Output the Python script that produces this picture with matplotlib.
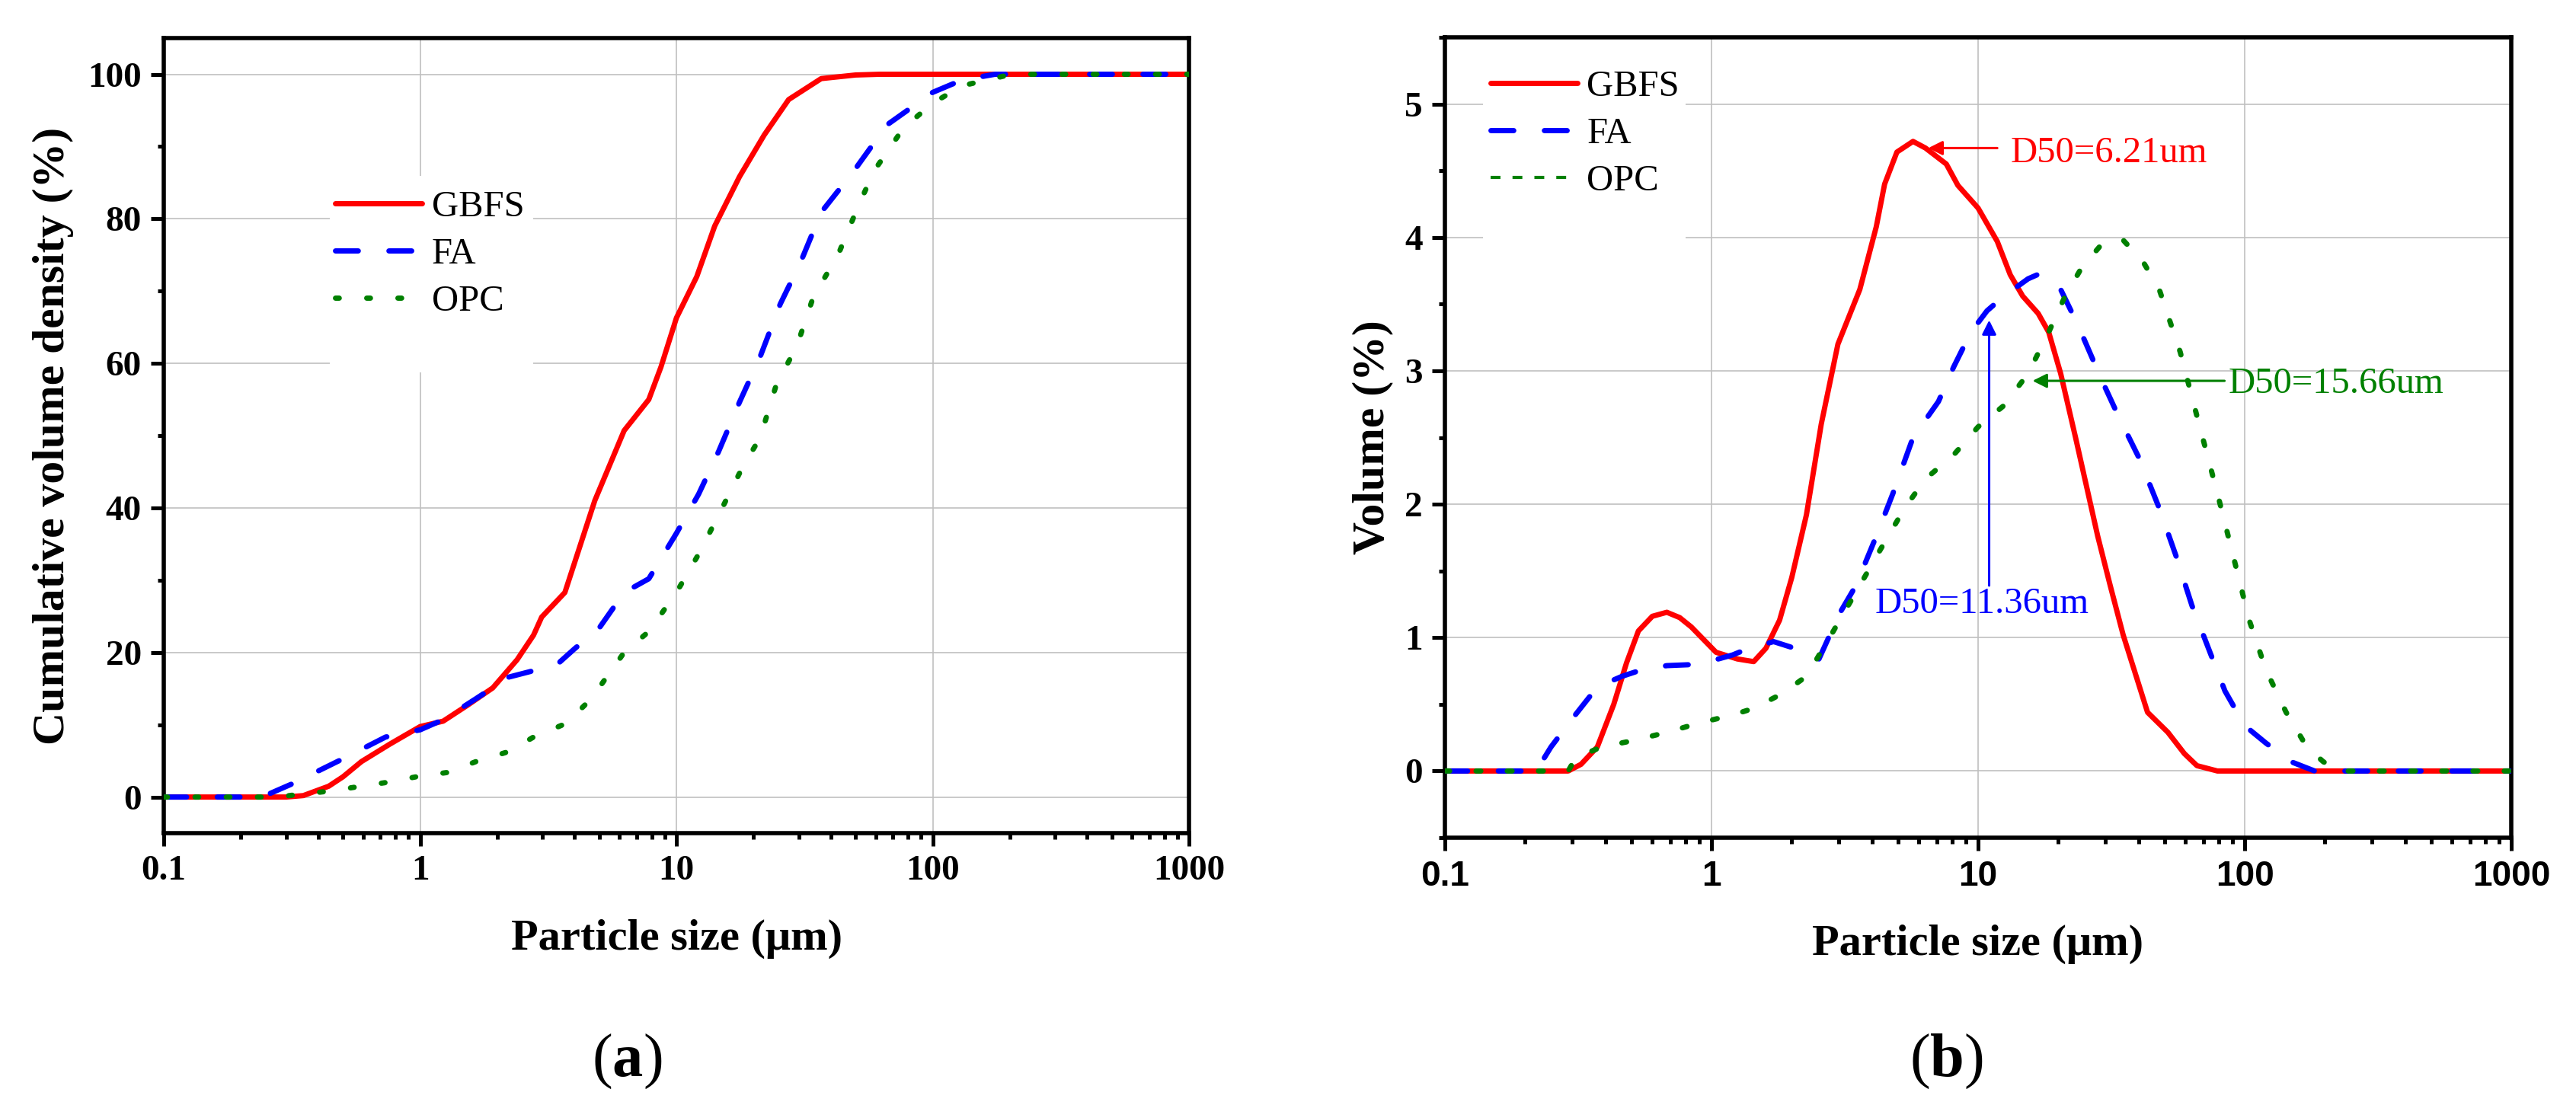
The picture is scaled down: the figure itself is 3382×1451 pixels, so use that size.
import numpy as np
import matplotlib
matplotlib.use("Agg")
import matplotlib.pyplot as plt
from matplotlib.ticker import MultipleLocator, LogLocator, NullFormatter
from matplotlib.patches import Rectangle
from matplotlib.lines import Line2D

# ---- data ----
# (a) cumulative volume density (%)
cum_gbfs_x = [0.1, 0.2, 0.3, 0.35, 0.44, 0.5, 0.59, 0.76, 1.0, 1.23, 1.53, 1.92, 2.39, 2.77,
              2.98, 3.67, 4.8, 6.25, 7.8, 8.7, 10, 12, 14.1, 17.6, 22, 27.4, 36.7, 50, 62, 100, 1000]
cum_gbfs_y = [0, 0, 0, 0.2, 1.5, 2.8, 4.9, 7.3, 9.75, 10.5, 12.7, 15.1, 19, 22.4,
              24.9, 28.3, 41, 50.7, 55, 59.5, 66.3, 72, 79, 85.8, 91.6, 96.5, 99.4, 99.9, 100, 100, 100]

cum_fa_x = [0.1, 0.22, 0.26, 0.325, 0.4, 0.507, 0.733, 1.0, 1.23, 1.65, 2.22, 3.0, 3.46, 4.0,
            5.0, 6.25, 7.8, 10, 12.2, 14.6, 17.6, 21.2, 25.4, 30.5, 36.7, 49.4, 66.3, 100, 130, 175, 1000]
cum_fa_y = [0, 0, 0.5, 2, 3.6, 5.4, 8.3, 9.3, 10.7, 13.6, 16.6, 17.8, 18.5, 20.5,
            23.4, 28.3, 30.2, 36.5, 41.9, 47.8, 54.6, 60.9, 68.2, 74, 80.9, 86.7, 93, 97.5, 99.2, 100, 100]

cum_opc_x = [0.1, 0.28, 0.325, 0.437, 0.733, 1.0, 1.28, 1.65, 2.22, 2.77, 3.72, 4.65, 6.25, 7.8,
             10, 12.2, 14.6, 18.2, 21.2, 24.5, 29.5, 34.2, 42.7, 51.4, 59.2, 77, 100, 130, 203, 1000]
cum_opc_y = [0, 0, 0.3, 0.8, 2.0, 2.9, 3.4, 4.9, 6.3, 8.3, 10.2, 13.6, 20, 22.9,
             28.3, 33.6, 39, 45.8, 49.7, 57, 62.4, 69.2, 75, 81.9, 86.7, 92.6, 96, 98.4, 100, 100]

# (b) volume (%)
vol_gbfs_x = [0.1, 0.29, 0.324, 0.373, 0.43, 0.48, 0.532, 0.6, 0.68, 0.76, 0.84, 1.04, 1.25, 1.44,
              1.6, 1.8, 2.0, 2.27, 2.58, 2.98, 3.6, 4.15, 4.46, 4.96, 5.7, 6.35, 7.6, 8.4, 10, 11.8,
              13.2, 14.7, 16.8, 18.4, 20.4, 23.2, 28.1, 31.3, 35, 43.2, 51.5, 59.4, 66.2, 79, 1000]
vol_gbfs_y = [0, 0, 0.05, 0.18, 0.5, 0.81, 1.05, 1.16, 1.19, 1.15, 1.08, 0.89, 0.84, 0.82,
              0.92, 1.13, 1.45, 1.92, 2.6, 3.2, 3.61, 4.08, 4.4, 4.64, 4.72, 4.67, 4.55, 4.39, 4.22, 3.97,
              3.72, 3.56, 3.43, 3.29, 2.98, 2.5, 1.76, 1.39, 1.02, 0.44, 0.29, 0.13, 0.04, 0, 0]

vol_fa_x = [0.1, 0.22, 0.25, 0.30, 0.373, 0.462, 0.55, 0.68, 0.9, 1.2, 1.38, 1.71, 2.05, 2.53,
            3.02, 3.48, 4.15, 4.79, 5.7, 7.1, 8.1, 9.4, 10.8, 12.5, 15.4, 17.1, 20.4, 23.6, 29.1,
            33.6, 40.3, 47.8, 55.3, 63.4, 73.1, 84.3, 100, 120, 149, 183, 1000]
vol_fa_y = [0, 0, 0.18, 0.39, 0.63, 0.71, 0.76, 0.79, 0.8, 0.87, 0.92, 0.97, 0.92, 0.84,
            1.18, 1.39, 1.76, 2.08, 2.5, 2.77, 3.03, 3.29, 3.45, 3.56, 3.69, 3.73, 3.61, 3.35, 2.93,
            2.66, 2.34, 1.97, 1.61, 1.24, 0.92, 0.6, 0.34, 0.21, 0.07, 0, 0]

vol_opc_x = [0.1, 0.29, 0.31, 0.387, 0.514, 0.68, 0.9, 1.2, 1.44, 1.84, 2.27, 2.81, 3.48, 4.3,
             5.3, 6.35, 8.1, 10, 12.5, 15.4, 18.4, 21.2, 24.4, 29.1, 35, 41.5, 47.8, 57.3, 66.2,
             79, 90.6, 104, 120, 143, 171, 197, 226, 1000]
vol_opc_y = [0, 0, 0.1, 0.18, 0.23, 0.29, 0.36, 0.42, 0.47, 0.58, 0.71, 1.02, 1.34, 1.66,
             1.97, 2.19, 2.37, 2.58, 2.74, 2.98, 3.29, 3.56, 3.77, 3.95, 3.98, 3.82, 3.61, 3.14, 2.66,
             2.08, 1.61, 1.13, 0.76, 0.44, 0.18, 0.07, 0, 0]

series_names = ["GBFS", "FA", "OPC"]
xtick_vals = [0.1, 1, 10, 100, 1000]
xtick_labels = ["0.1", "1", "10", "100", "1000"]

# D50 annotations: (label, text x, text y, arrow tail, arrow tip)
d50_notes = [
    ("D50=6.21um", 13.2, 4.63, (11.8, 4.67), (6.5, 4.67)),
    ("D50=15.66um", 87.0, 2.90, (84.0, 2.925), (16.0, 2.925)),
    ("D50=11.36um", 4.1, 1.25, (11.0, 1.39), (11.0, 3.38)),
]

# ---- styling ----
SERIF = "Liberation Serif"
SANS = "Liberation Sans"
RED, BLUE, GREEN = "#FF0000", "#0000FF", "#008000"
GRID = "#C0C0C0"

plt.rcParams["font.family"] = SERIF
plt.rcParams["mathtext.fontset"] = "custom"
plt.rcParams["mathtext.rm"] = SERIF
plt.rcParams["mathtext.bf"] = SERIF + ":bold"

fig = plt.figure(figsize=(33.82, 14.51), dpi=100)
ax1 = fig.add_axes([0.0636, 0.2460, 0.3980, 0.7195])
ax2 = fig.add_axes([0.5609, 0.2419, 0.4140, 0.7243])


def style_axes(ax, ylim, ymajor, yminor, ylabel, xtick_font):
    ax.set_xscale("log")
    ax.set_xlim(0.1, 1000)
    ax.set_ylim(*ylim)
    ax.set_xticks(xtick_vals)
    ax.set_xticklabels(xtick_labels)
    ax.xaxis.set_minor_locator(LogLocator(base=10, subs=np.arange(2, 10), numticks=20))
    ax.xaxis.set_minor_formatter(NullFormatter())
    ax.yaxis.set_major_locator(MultipleLocator(ymajor))
    ax.yaxis.set_minor_locator(MultipleLocator(yminor))
    ax.grid(True, which="major", color=GRID, lw=1.2)
    ax.set_axisbelow(True)
    for sp in ax.spines.values():
        sp.set_linewidth(4)
    ax.tick_params(which="major", direction="out", length=12, width=3.6, pad=9)
    ax.tick_params(which="minor", direction="out", length=6, width=3.6)
    ax.tick_params(top=False, right=False, which="both")
    for lab in ax.get_yticklabels():
        lab.set_fontfamily(SERIF)
        lab.set_fontweight("bold")
        lab.set_fontsize(34)
    for lab in ax.get_xticklabels():
        lab.set_fontfamily(xtick_font)
        lab.set_fontweight("bold")
        lab.set_fontsize(34 if xtick_font == SERIF else 33)
    ax.set_xlabel("Particle size (μm)", fontsize=42, fontweight="bold", family=SERIF)
    ax.set_ylabel(ylabel, fontsize=43, fontweight="bold", family=SERIF)


leg_kw = dict(loc="upper left", frameon=False, prop={"family": SERIF, "size": 35},
              handlelength=2.35, handletextpad=0.25, labelspacing=0.37,
              borderpad=0.2, borderaxespad=0)

# ---- (a) cumulative ----
style_axes(ax1, (-5, 105), 20, 10, "Cumulative volume density (%)", SERIF)
ax1.plot(cum_gbfs_x, cum_gbfs_y, color=RED, lw=5, solid_capstyle="round", label=series_names[0], zorder=3)
ax1.plot(cum_fa_x, cum_fa_y, color=BLUE, lw=5, dashes=(4.3, 5.8), dash_capstyle="round",
         label=series_names[1], zorder=4)
ax1.plot(cum_opc_x, cum_opc_y, color=GREEN, lw=5, dashes=(0.7, 5.2), dash_capstyle="round",
         label=series_names[2], zorder=5)
ax1.add_patch(Rectangle((0.162, 0.580), 0.198, 0.247, transform=ax1.transAxes,
                        facecolor="white", edgecolor="none", zorder=1))
ax1.legend(bbox_to_anchor=(0.160, 0.8175), **leg_kw)
ax1.xaxis.set_label_coords(0.5, -0.108)
ax1.yaxis.set_label_coords(-0.088, 0.5)

# ---- (b) volume ----
style_axes(ax2, (-0.5, 5.5), 1, 0.5, "Volume (%)", SANS)
l_g, = ax2.plot(vol_gbfs_x, vol_gbfs_y, color=RED, lw=5, solid_capstyle="round", zorder=3)
l_f, = ax2.plot(vol_fa_x, vol_fa_y, color=BLUE, lw=5, dashes=(4.3, 5.8), dash_capstyle="round", zorder=4)
ax2.plot(vol_opc_x, vol_opc_y, color=GREEN, lw=5, dashes=(0.9, 5.0), dash_capstyle="round", zorder=5)
# legend sample for OPC in (b) is a thin short-dash line
opc_handle = Line2D([], [], color=GREEN, lw=3, dashes=(3.1, 3.8))
ax2.add_patch(Rectangle((0.036, 0.733), 0.190, 0.267, transform=ax2.transAxes,
                        facecolor="white", edgecolor="none", zorder=1))
ax2.legend([l_g, l_f, opc_handle], series_names, bbox_to_anchor=(0.036, 0.968), **leg_kw)
ax2.xaxis.set_label_coords(0.5, -0.108)
ax2.yaxis.set_label_coords(-0.048, 0.5)

note_colors = [RED, GREEN, BLUE]
for (txt, tx, ty, tail, tip), c in zip(d50_notes, note_colors):
    ax2.annotate("", xy=tip, xytext=tail,
                 arrowprops=dict(arrowstyle="-|>", color=c, lw=2.2, mutation_scale=28,
                                 shrinkA=0, shrinkB=0), zorder=6)
    ax2.text(tx, ty, txt, color=c, fontsize=35, family=SERIF, ha="left", va="center", zorder=6)

# panel captions: bold letter, regular parentheses
fig.text(0.2434, 0.026, r"($\mathbf{a}$)", fontsize=58, family=SERIF, ha="center", va="baseline")
fig.text(0.7556, 0.026, r"($\mathbf{b}$)", fontsize=58, family=SERIF, ha="center", va="baseline")

fig.savefig("out.png", dpi=100)
